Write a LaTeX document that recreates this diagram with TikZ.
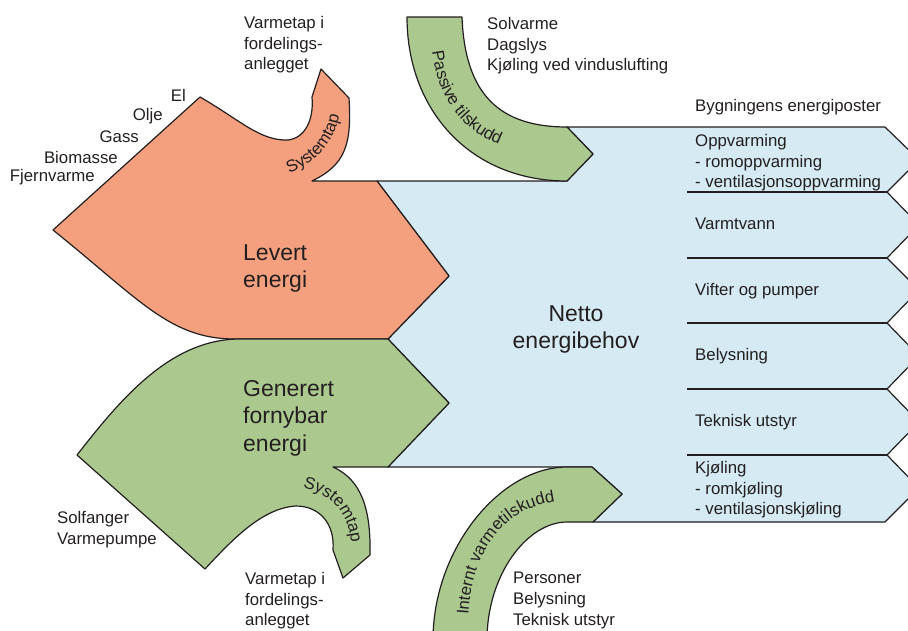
\documentclass[tikz,border=0pt]{standalone}
\usepackage{fontspec}
\setmainfont{Liberation Sans}
\usetikzlibrary{decorations.text}

\definecolor{levert}{RGB}{244,160,126}
\definecolor{fornybar}{RGB}{171,200,143}
\definecolor{netto}{RGB}{213,234,243}
\definecolor{txt}{RGB}{35,31,32}
\newcommand{\lblfont}{\fontsize{16.8}{20.8}\selectfont}
\newcommand{\bigfont}{\fontsize{23}{27.5}\selectfont}

\begin{document}
\begin{tikzpicture}[
      x=1pt, y=-1pt,
      area/.style={draw=txt, line width=1.2pt, line join=round},
      lbl/.style={inner sep=0pt, text=txt, font=\lblfont, align=left},
      big/.style={inner sep=0pt, text=txt, font=\bigfont, align=left},
      row/.style={lbl, anchor=west}
    ]
    \clip (0,0) rectangle (908,630);

    % Areas
    \draw[area, fill=netto] (377,181) -- (567,181) -- (593,154) -- (567,127) -- (885,127)
      -- (919,160) -- (887,192) -- (919,225) -- (887,258) -- (919,290) -- (887,323)
      -- (919,356) -- (887,389) -- (919,422) -- (887,455) -- (919,488) -- (885,522)
      -- (593,522) -- (622,494) -- (592,467) -- (388,467) -- (449,403) -- (388,339)
      -- (449,276) -- cycle;
    \foreach \y in {192,258,323,389,455}
      \draw[area] (687,\y) -- (887,\y);

    \draw[area, fill=levert] (200,97) .. controls (240,120) and (260,141) .. (288,140)
      .. controls (305,138) and (314,120) .. (312,97) -- (321,69) -- (349,98)
      .. controls (352,145) and (345,165) .. (312,181) -- (377,181) -- (449,276)
      -- (388,339) -- (235,339) .. controls (170,339) and (140,300) .. (53,230) -- cycle;

    \draw[area, fill=fornybar] (388,339) -- (449,403) -- (388,467) -- (333,467)
      .. controls (362,480) and (371,510) .. (370,555) -- (343,578) -- (333,550)
      .. controls (335,522) and (318,506) .. (296,506)
      .. controls (262,508) and (232,540) .. (205,569) -- (77,455)
      .. controls (120,400) and (170,339) .. (240,339) -- cycle;

    \draw[area, fill=fornybar] (407,17) -- (462,17) .. controls (465,95) and (500,127) .. (567,127)
      -- (593,154) -- (567,181) .. controls (470,181) and (407,110) .. (407,17) -- cycle;

    \draw[area, fill=fornybar] (433,640) .. controls (433,549) and (500,467) .. (567,467)
      -- (592,467) -- (622,494) -- (593,522) -- (567,522)
      .. controls (527,522) and (487,575) .. (487,640) -- cycle;

    % Arc labels
    \path[decorate, decoration={text along path, text align=center, text color=txt,
      text={|\lblfont|Systemtap}}] (278,177) .. controls (310,168) and (338,145) .. (341,104);
    \path[decorate, decoration={text along path, text align=center, text color=txt,
      text={|\lblfont|Systemtap}}] (294,486) .. controls (330,492) and (350,510) .. (352,552);
    \path[decorate, decoration={text along path, text align=center, text color=txt,
      text={|\lblfont|Passive tilskudd}}] (431,35) .. controls (433,95) and (460,135) .. (515,150);
    \path[decorate, decoration={text along path, text align=center, text color=txt,
      text={|\lblfont|Internt varmetilskudd}}] (468,622) .. controls (470,550) and (505,505) .. (562,501);

    % Nodes
    \node[big, anchor=north west] (levert) at (243,244) {Levert\\energi};
    \node[big, anchor=north west] (generert) at (243,380) {Generert\\fornybar\\energi};
    \node[big, anchor=north, align=center] (netto) at (576,305) {Netto\\energibehov};

    \node[lbl, anchor=east] (el) at (186,95) {El};
    \node[lbl, anchor=east] (olje) at (163,116) {Olje};
    \node[lbl, anchor=east] (gass) at (139,137) {Gass};
    \node[lbl, anchor=east] (bio) at (118,157) {Biomasse};
    \node[lbl, anchor=east] (fjern) at (95,177) {Fjernvarme};
    \node[lbl, anchor=north west] (taptopp) at (244,16) {Varmetap i\\fordelings-\\anlegget};
    \node[lbl, anchor=north west] (passiv) at (487,17) {Solvarme\\Dagslys\\Kjøling ved vinduslufting};
    \node[lbl, anchor=north west] (solfanger) at (57,511) {Solfanger\\Varmepumpe};
    \node[lbl, anchor=north west] (tapbunn) at (245,572) {Varmetap i\\fordelings-\\anlegget};
    \node[lbl, anchor=north west] (internt) at (513,572) {Personer\\Belysning\\Teknisk utstyr};

    \node[row] (poster) at (695,107) {Bygningens energiposter};
    \node[lbl, anchor=north west] (oppvarming) at (695,134) {Oppvarming\\- romoppvarming\\- ventilasjonsoppvarming};
    \node[row] (varmtvann) at (695,224) {Varmtvann};
    \node[row] (vifter) at (695,291) {Vifter og pumper};
    \node[row] (belysning) at (695,356) {Belysning};
    \node[row] (teknisk) at (695,422) {Teknisk utstyr};
    \node[lbl, anchor=north west] (kjoling) at (695,461) {Kjøling\\- romkjøling\\- ventilasjonskjøling};
  \end{tikzpicture}
\end{document}
